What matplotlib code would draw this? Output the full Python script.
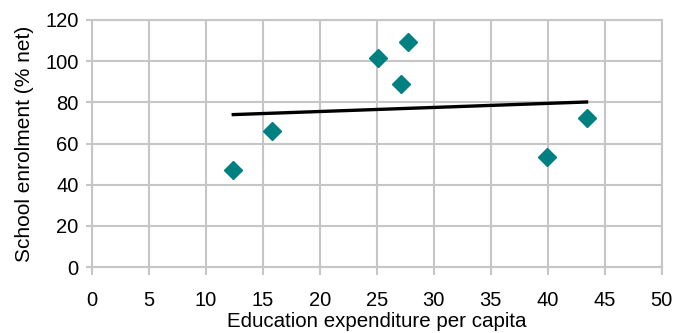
import numpy as np
import matplotlib
matplotlib.use("Agg")
import matplotlib.pyplot as plt

plt.rcParams['font.family'] = ['Liberation Sans', 'DejaVu Sans']

# Education expenditure per capita vs. net school enrolment
expenditure = [12.4, 15.8, 25.1, 27.7, 27.1, 39.9, 43.4]
enrolment = [47.1, 66.3, 101.6, 109.3, 88.9, 53.4, 72.4]

x_ticks = [0, 5, 10, 15, 20, 25, 30, 35, 40, 45, 50]
y_ticks = [0, 20, 40, 60, 80, 100, 120]

fig = plt.figure(figsize=(6.76, 3.33), dpi=100)
ax = fig.add_axes([0.136, 0.198, 0.843, 0.742])

grid_c = '#c6c6c6'
ax.set_xlim(0, 50)
ax.set_ylim(0, 120)
ax.set_xticks(x_ticks)
ax.set_yticks(y_ticks)
ax.grid(True, color=grid_c, linewidth=1.5)
ax.set_axisbelow(True)
for s in ax.spines.values():
    s.set_color(grid_c)
    s.set_linewidth(1.5)
ax.tick_params(axis='both', colors=grid_c, width=1.5,
               labelcolor='black', labelsize=14.5)
ax.tick_params(axis='x', length=6, pad=11)
ax.tick_params(axis='y', length=4.5, pad=5)

# Linear trend line over the data range
xs = np.array(expenditure)
ys = np.array(enrolment)
k, b = np.polyfit(xs, ys, 1)
xl = np.array([xs.min(), xs.max()])
ax.plot(xl, k * xl + b, color='black', linewidth=2.4, zorder=3)

ax.plot(expenditure, enrolment, linestyle='none', marker='D',
        markersize=9, color='#008080', zorder=4)

ax.set_xlabel('Education expenditure per capita', fontsize=14.8, labelpad=2)
ax.set_ylabel('School enrolment (% net)', fontsize=15, labelpad=8)

fig.savefig('out.png', dpi=100, facecolor='white')
